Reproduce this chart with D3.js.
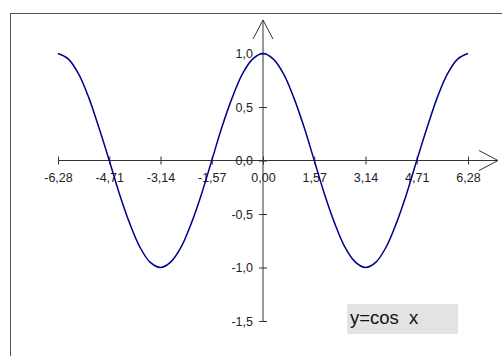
<!DOCTYPE html>
<html><head><meta charset="utf-8">
<script src="https://cdn.jsdelivr.net/npm/d3@7"></script>
<style>body{margin:0;background:#fff}svg{display:block}text{font-family:"Liberation Sans",Arial,sans-serif}</style>
</head><body><svg id="c" width="502" height="356"></svg>
<script>
const xValues = [-6.28,-5.97,-5.65,-5.34,-5.03,-4.71,-4.40,-4.08,-3.77,-3.46,-3.14,-2.83,-2.51,-2.20,-1.88,-1.57,-1.26,-0.94,-0.63,-0.31,0.00,0.31,0.63,0.94,1.26,1.57,1.88,2.20,2.51,2.83,3.14,3.46,3.77,4.08,4.40,4.71,5.03,5.34,5.65,5.97,6.28];
const yValues = [1.00,0.95,0.81,0.59,0.31,0.00,-0.31,-0.59,-0.81,-0.95,-1.00,-0.95,-0.81,-0.59,-0.31,0.00,0.31,0.59,0.81,0.95,1.00,0.95,0.81,0.59,0.31,0.00,-0.31,-0.59,-0.81,-0.95,-1.00,-0.95,-0.81,-0.59,-0.31,0.00,0.31,0.59,0.81,0.95,1.00];
const xTicks = [-6.28,-4.71,-3.14,-1.57,0,1.57,3.14,4.71,6.28];
const xTickLabels = ["-6,28","-4,71","-3,14","-1,57","0,00","1,57","3,14","4,71","6,28"];
const yTicks = [1.0,0.5,0.0,-0.5,-1.0,-1.5];
const yTickLabels = ["1,0","0,5","0,0","-0,5","-1,0","-1,5"];
const legendLabel = "y=cos  x";

const svg = d3.select("#c");
const x = d3.scaleLinear().domain([-6.28,6.28]).range([58,468]);
const y = d3.scaleLinear().domain([-1.5,1.0]).range([321,53.5]);

svg.append("rect").attr("x",10.5).attr("y",13.5).attr("width",520).attr("height",360)
  .attr("fill","none").attr("stroke","#555").attr("stroke-width",1);

const ax = "#333";
const fs = 12.5;
const x0 = x(0), y0 = y(0);
const gx = svg.append("g").attr("transform",`translate(0,${y0})`)
  .call(d3.axisBottom(x).tickValues(xTicks).tickSize(0).tickPadding(13).tickFormat((d,i)=>xTickLabels[i]));
gx.select(".domain").remove();
gx.selectAll(".tick line").attr("y1",-4).attr("y2",4).attr("stroke",ax);
gx.selectAll(".tick text").attr("font-size",fs).attr("fill","#222").attr("font-family","Liberation Sans, Arial, sans-serif");
svg.append("line").attr("x1",x(-6.28)).attr("x2",498).attr("y1",y0).attr("y2",y0).attr("stroke",ax);
svg.append("path").attr("d",`M479,${y0-10}L498,${y0}L479,${y0+10}`).attr("fill","none").attr("stroke",ax);

const gy = svg.append("g").attr("transform",`translate(${x0},0)`)
  .call(d3.axisLeft(y).tickValues(yTicks).tickSize(0).tickPadding(10).tickFormat((d,i)=>yTickLabels[i]));
gy.select(".domain").remove();
gy.selectAll(".tick line").attr("x1",-4).attr("x2",4).attr("stroke",ax);
gy.selectAll(".tick text").attr("font-size",fs).attr("fill","#222").attr("font-family","Liberation Sans, Arial, sans-serif");
svg.append("line").attr("x1",x0).attr("x2",x0).attr("y1",y(-1.5)).attr("y2",20).attr("stroke",ax);
svg.append("path").attr("d",`M${x0-10},39L${x0},20L${x0+10},39`).attr("fill","none").attr("stroke",ax);

const pts = xValues.map((v,i)=>[v,yValues[i]]);
svg.append("path").datum(pts)
  .attr("d",d3.line().x(d=>x(d[0])).y(d=>y(d[1])).curve(d3.curveCatmullRom))
  .attr("fill","none").attr("stroke","#00008b").attr("stroke-width",1.5);

svg.append("rect").attr("x",347).attr("y",304).attr("width",111).attr("height",30).attr("fill","#e3e3e3");
svg.append("text").attr("x",350).attr("y",324).attr("font-size",18.5).attr("fill","#111")
  .style("white-space","pre").text(legendLabel);
</script></body></html>
